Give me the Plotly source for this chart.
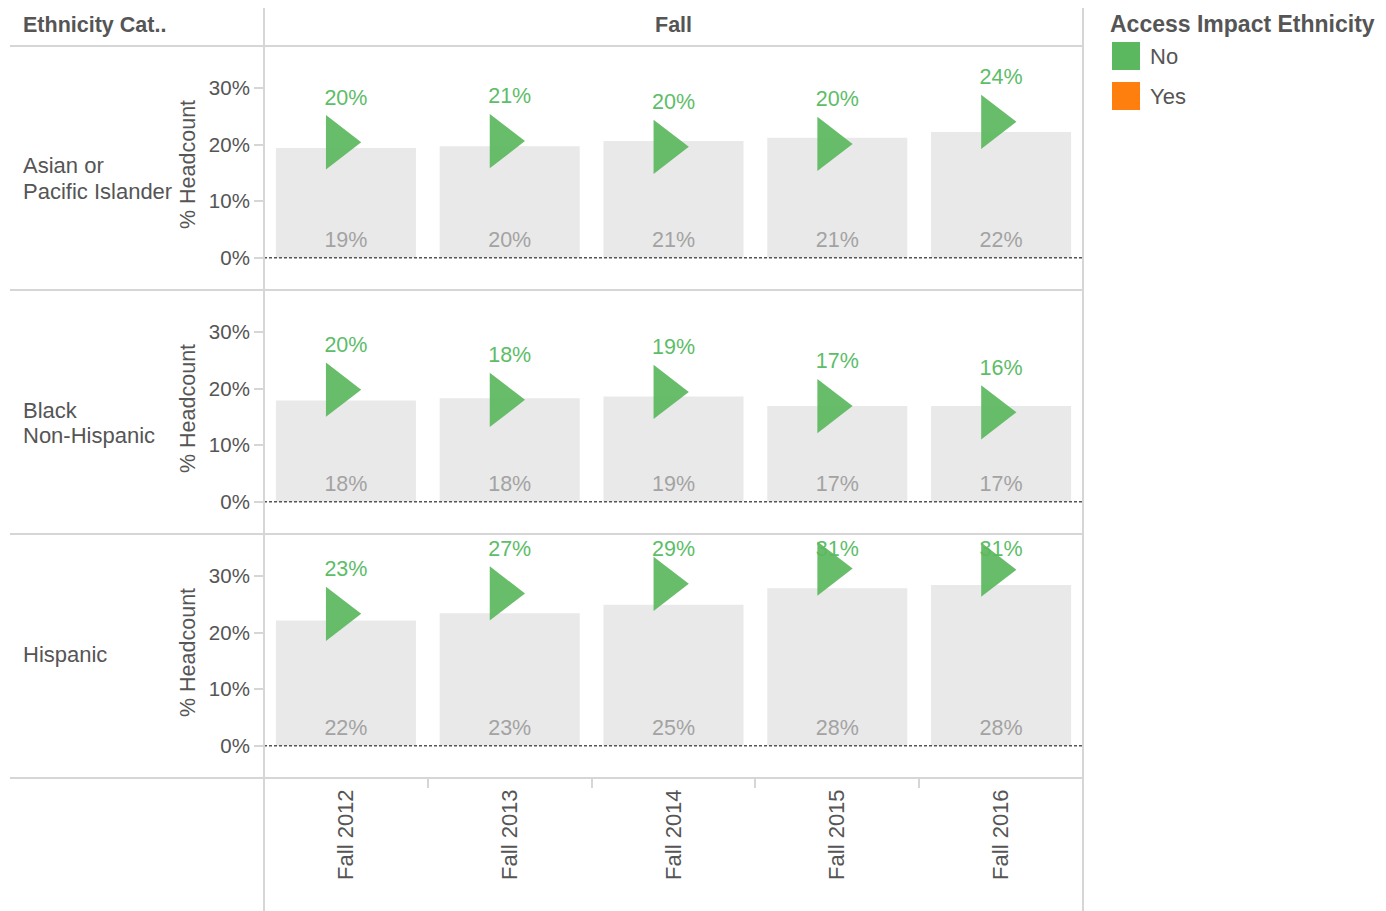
import plotly.graph_objects as go

# page body has an 8px margin, so the figure is drawn from (8, 8)
OFF = 8
W, H = 1386 - OFF, 911 - OFF

# ---------------- data ----------------
terms = ["Fall 2012", "Fall 2013", "Fall 2014", "Fall 2015", "Fall 2016"]
groups = ["Asian or<br>Pacific Islander", "Black<br>Non-Hispanic", "Hispanic"]

# grey bars: % headcount (overall)
bar_asian = [0.194, 0.197, 0.206, 0.212, 0.222]
bar_black = [0.179, 0.183, 0.186, 0.169, 0.169]
bar_hisp = [0.221, 0.234, 0.249, 0.278, 0.284]

# green triangles: Access Impact Ethnicity = No
no_asian = [0.204, 0.206, 0.196, 0.201, 0.240]
no_black = [0.198, 0.180, 0.194, 0.169, 0.158]
no_hisp = [0.233, 0.269, 0.286, 0.313, 0.311]

legend_items = ["No", "Yes"]
legend_colors = ["#5cb85f", "#ff7f0e"]

bars = [bar_asian, bar_black, bar_hisp]
nos = [no_asian, no_black, no_hisp]

# ---------------- style ----------------
FONT = "Arial, Liberation Sans, sans-serif"
DARK = "#555555"
LINE = "#d6d6d6"
GREEN = "#5cb85f"
BAR = "#e9e9e9"
BARTXT = "#a3a3a3"


def px(x):
    return (x - OFF) / W


def py(y):
    return 1 - (y - OFF) / H


X0, X1 = 264, 1083
row_edges = [(46, 290), (290, 534), (534, 778)]
YR = [-0.057, 0.374]
pos = list(range(len(terms)))


def pct(v):
    return f"{v * 100:.0f}%"


fig = go.Figure()

for k in range(3):
    ax = "" if k == 0 else str(k + 1)
    xa, ya = "x" + ax, "y" + ax
    b = bars[k]
    n = nos[k]
    fig.add_trace(go.Bar(
        x=pos, y=b, width=0.855, marker=dict(color=BAR, line=dict(width=0)),
        xaxis=xa, yaxis=ya, showlegend=False, hoverinfo="skip"))
    # bar value labels near the base
    fig.add_trace(go.Scatter(
        x=pos, y=[0.029] * len(b), mode="text", text=[pct(v) for v in b],
        textposition="middle center",
        textfont=dict(family=FONT, size=21.5, color=BARTXT),
        xaxis=xa, yaxis=ya, showlegend=False, hoverinfo="skip", cliponaxis=False))
    # triangle value labels (kept inside the pane)
    fig.add_trace(go.Scatter(
        x=pos, y=[min(v + 0.076, 0.345) for v in n], mode="text",
        text=[pct(v) for v in n], textposition="middle center",
        textfont=dict(family=FONT, size=21.5, color="#5dbd68"),
        xaxis=xa, yaxis=ya, showlegend=False, hoverinfo="skip", cliponaxis=False))
    fig.add_trace(go.Scatter(
        x=[p - 0.05 for p in pos], y=n, mode="markers",
        marker=dict(symbol="triangle-right", size=47, color=GREEN, opacity=0.93,
                    line=dict(width=0)),
        xaxis=xa, yaxis=ya, showlegend=False, hoverinfo="skip", cliponaxis=False))

    top, bot = row_edges[k]
    xdict = dict(domain=[px(X0), px(X1)], range=[-0.5, 4.5],
                 showgrid=False, zeroline=False, showline=False, anchor=ya,
                 fixedrange=True, tickvals=pos, ticktext=terms)
    if k == 2:
        xdict.update(ticks="", tickangle=-90, ticklabelstandoff=6,
                     tickfont=dict(family=FONT, size=22, color=DARK),
                     showticklabels=True,
                     minor=dict(tickvals=[p + 0.5 for p in pos[:-1]], ticks="outside",
                                ticklen=9, tickcolor=LINE, tickwidth=1.5,
                                showgrid=False))
    else:
        xdict.update(ticks="", showticklabels=False)
    ydict = dict(domain=[py(bot), py(top)], range=YR, tickvals=[0, 0.1, 0.2, 0.3],
                 tickformat=".0%", ticks="outside", ticklen=9, tickcolor=LINE,
                 tickwidth=1.5, showgrid=False, zeroline=False, showline=False,
                 tickfont=dict(family=FONT, size=20.5, color=DARK), anchor=xa,
                 fixedrange=True)
    fig.update_layout(**{"xaxis" + ax: xdict, "yaxis" + ax: ydict})

    # dashed zero line
    fig.add_shape(type="line", xref=xa + " domain", yref=ya, x0=0, x1=1, y0=0, y1=0,
                  line=dict(color="#555555", width=1.5, dash="3px,2px"))
    # axis title
    fig.add_annotation(text="% Headcount", xref="paper", yref="paper",
                       x=px(188), y=py((top + bot) / 2 - 3), textangle=-90,
                       showarrow=False, xanchor="center", yanchor="middle",
                       font=dict(family=FONT, size=21.5, color=DARK))

# row labels (one annotation per text line)
row_label_y = [179, 423, 654]
LINE_STEP = 26
for lbl, yy in zip(groups, row_label_y):
    lines = lbl.split("<br>")
    y_first = yy - LINE_STEP * (len(lines) - 1) / 2
    for j, ln in enumerate(lines):
        fig.add_annotation(text=ln, xref="paper", yref="paper", x=px(21),
                           y=py(y_first + j * LINE_STEP),
                           xanchor="left", yanchor="middle", align="left",
                           showarrow=False,
                           font=dict(family=FONT, size=22, color=DARK))

# headers
fig.add_annotation(text="<b>Ethnicity Cat..</b>", xref="paper", yref="paper",
                   x=px(21), y=py(25), xanchor="left", yanchor="middle",
                   showarrow=False, font=dict(family=FONT, size=21.5, color=DARK))
fig.add_annotation(text="<b>Fall</b>", xref="paper", yref="paper",
                   x=px((X0 + X1) / 2), y=py(25), xanchor="center", yanchor="middle",
                   showarrow=False, font=dict(family=FONT, size=21.5, color=DARK))

# grid / divider lines
for yy in [46, 290, 534, 778]:
    fig.add_shape(type="line", xref="paper", yref="paper", x0=px(10), x1=px(X1),
                  y0=py(yy), y1=py(yy), line=dict(color=LINE, width=2))
for xx in [X0, X1]:
    fig.add_shape(type="line", xref="paper", yref="paper", x0=px(xx), x1=px(xx),
                  y0=py(5), y1=py(911), line=dict(color=LINE, width=2))

# legend (manual)
fig.add_annotation(text="<b>Access Impact Ethnicity</b>", xref="paper", yref="paper",
                   x=px(1108), y=py(24), xanchor="left", yanchor="middle",
                   showarrow=False, font=dict(family=FONT, size=23, color=DARK))
for i, (name, col) in enumerate(zip(legend_items, legend_colors)):
    yc = 56 + 40 * i
    fig.add_shape(type="rect", xref="paper", yref="paper", x0=px(1112), x1=px(1140),
                  y0=py(yc - 14), y1=py(yc + 14), fillcolor=col, line=dict(width=0))
    fig.add_annotation(text=name, xref="paper", yref="paper", x=px(1148), y=py(yc),
                       xanchor="left", yanchor="middle", showarrow=False,
                       font=dict(family=FONT, size=22, color=DARK))

fig.update_layout(width=W, height=H, margin=dict(l=0, r=0, t=0, b=0),
                  paper_bgcolor="white", plot_bgcolor="white", barmode="overlay",
                  showlegend=False, font=dict(family=FONT, color=DARK))

fig.write_html("out.html")
